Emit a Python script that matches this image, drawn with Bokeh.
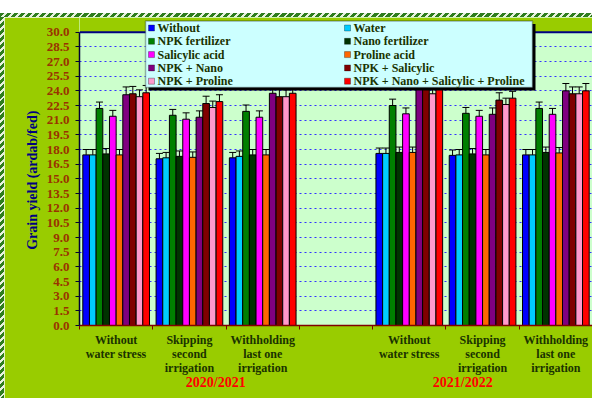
from bokeh.plotting import figure
from bokeh.models import (ColumnDataSource, FixedTicker, Whisker, TeeHead, Spacer,
                          CustomJSTickFormatter, LinearAxis, BoxAnnotation, Span, Div, Label)
from bokeh.layouts import column, row
from bokeh.embed import file_html
from bokeh.resources import INLINE

# ---------------- data ----------------
categories = ["Without\nwater stress", "Skipping\nsecond\nirrigation", "Withholding\nlast one\nirrigation",
              "Without\nwater stress", "Skipping\nsecond\nirrigation", "Withholding\nlast one\nirrigation"]
slots = [0, 1, 2, 4, 5, 6]          # category slot index (slot 3 left empty between seasons)
seasons = ["2020/2021", "2021/2022"]
season_pos = [1.36, 4.73]

series_names = ["Without", "Water", "NPK fertilizer", "Nano fertilizer", "Salicylic acid",
                "Proline acid", "NPK + Nano", "NPK + Salicylic", "NPK + Proline",
                "NPK + Nano + Salicylic + Proline"]
series_colors = ["#0000FF", "#00CCFF", "#008000", "#003300", "#FF00FF",
                 "#FF6600", "#800080", "#800000", "#FF99CC", "#FF0000"]

without      = [17.45, 17.05, 17.15, 17.60, 17.40, 17.45]
water        = [17.45, 17.15, 17.30, 17.60, 17.45, 17.45]
npk_fert     = [22.20, 21.50, 21.90, 22.50, 21.70, 22.20]
nano_fert    = [17.55, 17.30, 17.45, 17.70, 17.55, 17.70]
salicylic    = [21.40, 21.10, 21.30, 21.65, 21.40, 21.60]
proline      = [17.45, 17.20, 17.45, 17.70, 17.45, 17.65]
npk_nano     = [23.60, 21.30, 23.75, 24.40, 21.60, 24.00]
npk_salic    = [23.70, 22.70, 23.40, 24.30, 23.05, 23.70]
npk_proline  = [23.40, 22.30, 23.40, 23.70, 22.60, 23.70]
npk_all      = [23.80, 22.90, 23.75, 24.20, 23.25, 24.00]

err_without     = [0.55, 0.55, 0.55, 0.55, 0.55, 0.55]
err_water       = [0.55, 0.55, 0.55, 0.55, 0.55, 0.55]
err_npk_fert    = [0.65, 0.60, 0.65, 0.65, 0.60, 0.65]
err_nano_fert   = [0.55, 0.55, 0.55, 0.55, 0.55, 0.55]
err_salicylic   = [0.60, 0.65, 0.65, 0.60, 0.60, 0.60]
err_proline     = [0.55, 0.55, 0.55, 0.55, 0.55, 0.55]
err_npk_nano    = [0.80, 0.65, 0.75, 0.80, 0.65, 0.75]
err_npk_salic   = [0.75, 0.75, 0.75, 0.75, 0.75, 0.70]
err_npk_proline = [0.70, 0.65, 0.70, 0.70, 0.65, 0.70]
err_npk_all     = [0.75, 0.70, 0.75, 0.75, 0.70, 0.75]

series_values = [without, water, npk_fert, nano_fert, salicylic, proline,
                 npk_nano, npk_salic, npk_proline, npk_all]
series_errors = [err_without, err_water, err_npk_fert, err_nano_fert, err_salicylic,
                 err_proline, err_npk_nano, err_npk_salic, err_npk_proline, err_npk_all]

y_ticks = [0.0, 1.5, 3.0, 4.5, 6.0, 7.5, 9.0, 10.5, 12.0, 13.5, 15.0, 16.5, 18.0,
           19.5, 21.0, 22.5, 24.0, 25.5, 27.0, 28.5, 30.0]
y_max = 30.0

# ---------------- style ----------------
FONT = "Liberation Serif"
n = len(series_names)
bar_w = 0.091
STRIPE = "repeating-linear-gradient(135deg, #2E7D1E 0px, #2E7D1E 3px, #E8F0E0 3px, #E8F0E0 5px)"

p = figure(width=588, height=381, x_range=(-0.5, 6.5), y_range=(0, 31.5),
           output_backend="svg", toolbar_location=None,
           min_border_left=75, min_border_right=0, min_border_top=0, min_border_bottom=73)
p.border_fill_color = "#99CC00"
p.background_fill_color = "#CCFFCC"
p.outline_line_color = None

# area above the value axis maximum is outside the chart's plot area
p.add_layout(BoxAnnotation(bottom=y_max, fill_color="#99CC00", fill_alpha=1, line_color=None,
                           level="underlay"))

for i, (name, col, vals, errs) in enumerate(zip(series_names, series_colors, series_values, series_errors)):
    off = (i - (n - 1) / 2) * bar_w
    xs = [s + off for s in slots]
    src = ColumnDataSource(dict(x=xs, top=vals, upper=[v + e for v, e in zip(vals, errs)]))
    p.vbar(x="x", top="top", width=bar_w, source=src, fill_color=col,
           line_color="#000000", line_width=1)
    w = Whisker(source=src, base="x", upper="upper", lower="top", dimension="height",
                line_color="#000000", line_width=1,
                upper_head=TeeHead(size=7, line_color="#000000", line_width=1), lower_head=None)
    w.level = "glyph"
    p.add_layout(w)

p.add_layout(Span(location=y_max, dimension="width", line_color="#000080", line_width=2))

# y axis
p.yaxis.bounds = (0, y_max)
p.yaxis.ticker = FixedTicker(ticks=y_ticks)
p.yaxis.formatter = CustomJSTickFormatter(code="return tick.toFixed(1);")
p.yaxis.major_label_text_font = FONT
p.yaxis.major_label_text_font_style = "bold"
p.yaxis.major_label_text_font_size = "13px"
p.yaxis.major_label_text_color = "#993300"
p.yaxis.axis_label = "Grain yield (ardab/fed)" + "\u00a0" * 5
p.yaxis.axis_label_text_font = FONT
p.yaxis.axis_label_text_font_style = "bold"
p.yaxis.axis_label_text_font_size = "14px"
p.yaxis.axis_label_text_color = "#000080"
p.yaxis.axis_label_standoff = 4
p.yaxis.major_label_standoff = 6
p.yaxis.axis_line_color = "#000033"
p.yaxis.axis_line_width = 1.5
p.yaxis.major_tick_out = 4
p.yaxis.major_tick_in = 0
p.yaxis.major_tick_line_color = "#000033"
p.yaxis.minor_tick_line_color = None

# x axis
boundaries = [-0.5, 0.5, 1.5, 2.5, 3.5, 4.5, 5.5, 6.5]
p.xaxis.ticker = FixedTicker(ticks=slots, minor_ticks=boundaries)
p.xaxis.major_label_overrides = {s: c for s, c in zip(slots, categories)}
p.xaxis.major_label_text_font = FONT
p.xaxis.major_label_text_font_style = "bold"
p.xaxis.major_label_text_font_size = "12px"
p.xaxis.major_label_text_color = "#1A3300"
p.xaxis.major_label_text_line_height = 1.0
p.xaxis.major_label_standoff = 3
p.xaxis.major_tick_out = 0
p.xaxis.major_tick_in = 0
p.xaxis.minor_tick_out = 4
p.xaxis.minor_tick_in = 0
p.xaxis.minor_tick_line_color = "#800000"
p.xaxis.axis_line_color = "#800000"
p.xaxis.axis_line_width = 1.5

# season labels as a second, line-less axis below the categories
season_axis = LinearAxis(ticker=FixedTicker(ticks=season_pos),
                         major_label_overrides={sp: s for sp, s in zip(season_pos, seasons)})
season_axis.axis_line_color = None
season_axis.major_tick_line_color = None
season_axis.minor_tick_line_color = None
season_axis.major_tick_out = 0
season_axis.major_tick_in = 0
season_axis.major_label_standoff = -3
season_axis.major_label_text_font = FONT
season_axis.major_label_text_font_style = "bold"
season_axis.major_label_text_font_size = "14px"
season_axis.major_label_text_color = "#FF0000"
p.add_layout(season_axis, "below")

# grid
p.xgrid.grid_line_color = None
p.ygrid.ticker = FixedTicker(ticks=y_ticks)
p.ygrid.grid_line_color = "#3333FF"
p.ygrid.grid_line_dash = "2 3"
p.ygrid.grid_line_width = 1.2

# ---------------- legend (screen units, relative to the plot frame) ----------------
LG_LEFT, LG_RIGHT, LG_TOP, LG_BOTTOM = 66, 453, 304.5, 238
SHADOW = 3
ROW0, ROW_STEP = 297.5, 13.3
COL_X = [69, 265]
SW = 6

def sbox(**kw):
    return BoxAnnotation(left_units="screen", right_units="screen", top_units="screen",
                         bottom_units="screen", **kw)

p.add_layout(sbox(left=LG_LEFT + SHADOW, right=LG_RIGHT + SHADOW, top=LG_TOP - SHADOW,
                  bottom=LG_BOTTOM - SHADOW, fill_color="#000000", fill_alpha=1, line_color=None))
p.add_layout(sbox(left=LG_LEFT, right=LG_RIGHT, top=LG_TOP, bottom=LG_BOTTOM,
                  fill_color="#CCFFFF", fill_alpha=1, line_color="#000000", line_width=1.5))
for k, (name, col) in enumerate(zip(series_names, series_colors)):
    cx = COL_X[k % 2]
    cy = ROW0 - (k // 2) * ROW_STEP
    p.add_layout(sbox(left=cx, right=cx + SW, top=cy + SW / 2, bottom=cy - SW / 2,
                      fill_color=col, fill_alpha=1, line_color="#000000", line_width=1))
    p.add_layout(Label(x=cx + SW + 3, y=cy, x_units="screen", y_units="screen", text=name,
                       text_baseline="middle", text_align="left", text_font=FONT,
                       text_font_style="bold", text_font_size="12px", text_color="#1A3300"))

top_stripe = Div(text="", width=592, height=4, margin=0, styles={"background": STRIPE})
left_stripe = Div(text="", width=4, height=381, margin=0, styles={"background": STRIPE})
layout = column(Spacer(width=592, height=13, margin=0), top_stripe,
                row(left_stripe, p, spacing=0), spacing=0)
open("out.html", "w").write(file_html(layout, INLINE))
